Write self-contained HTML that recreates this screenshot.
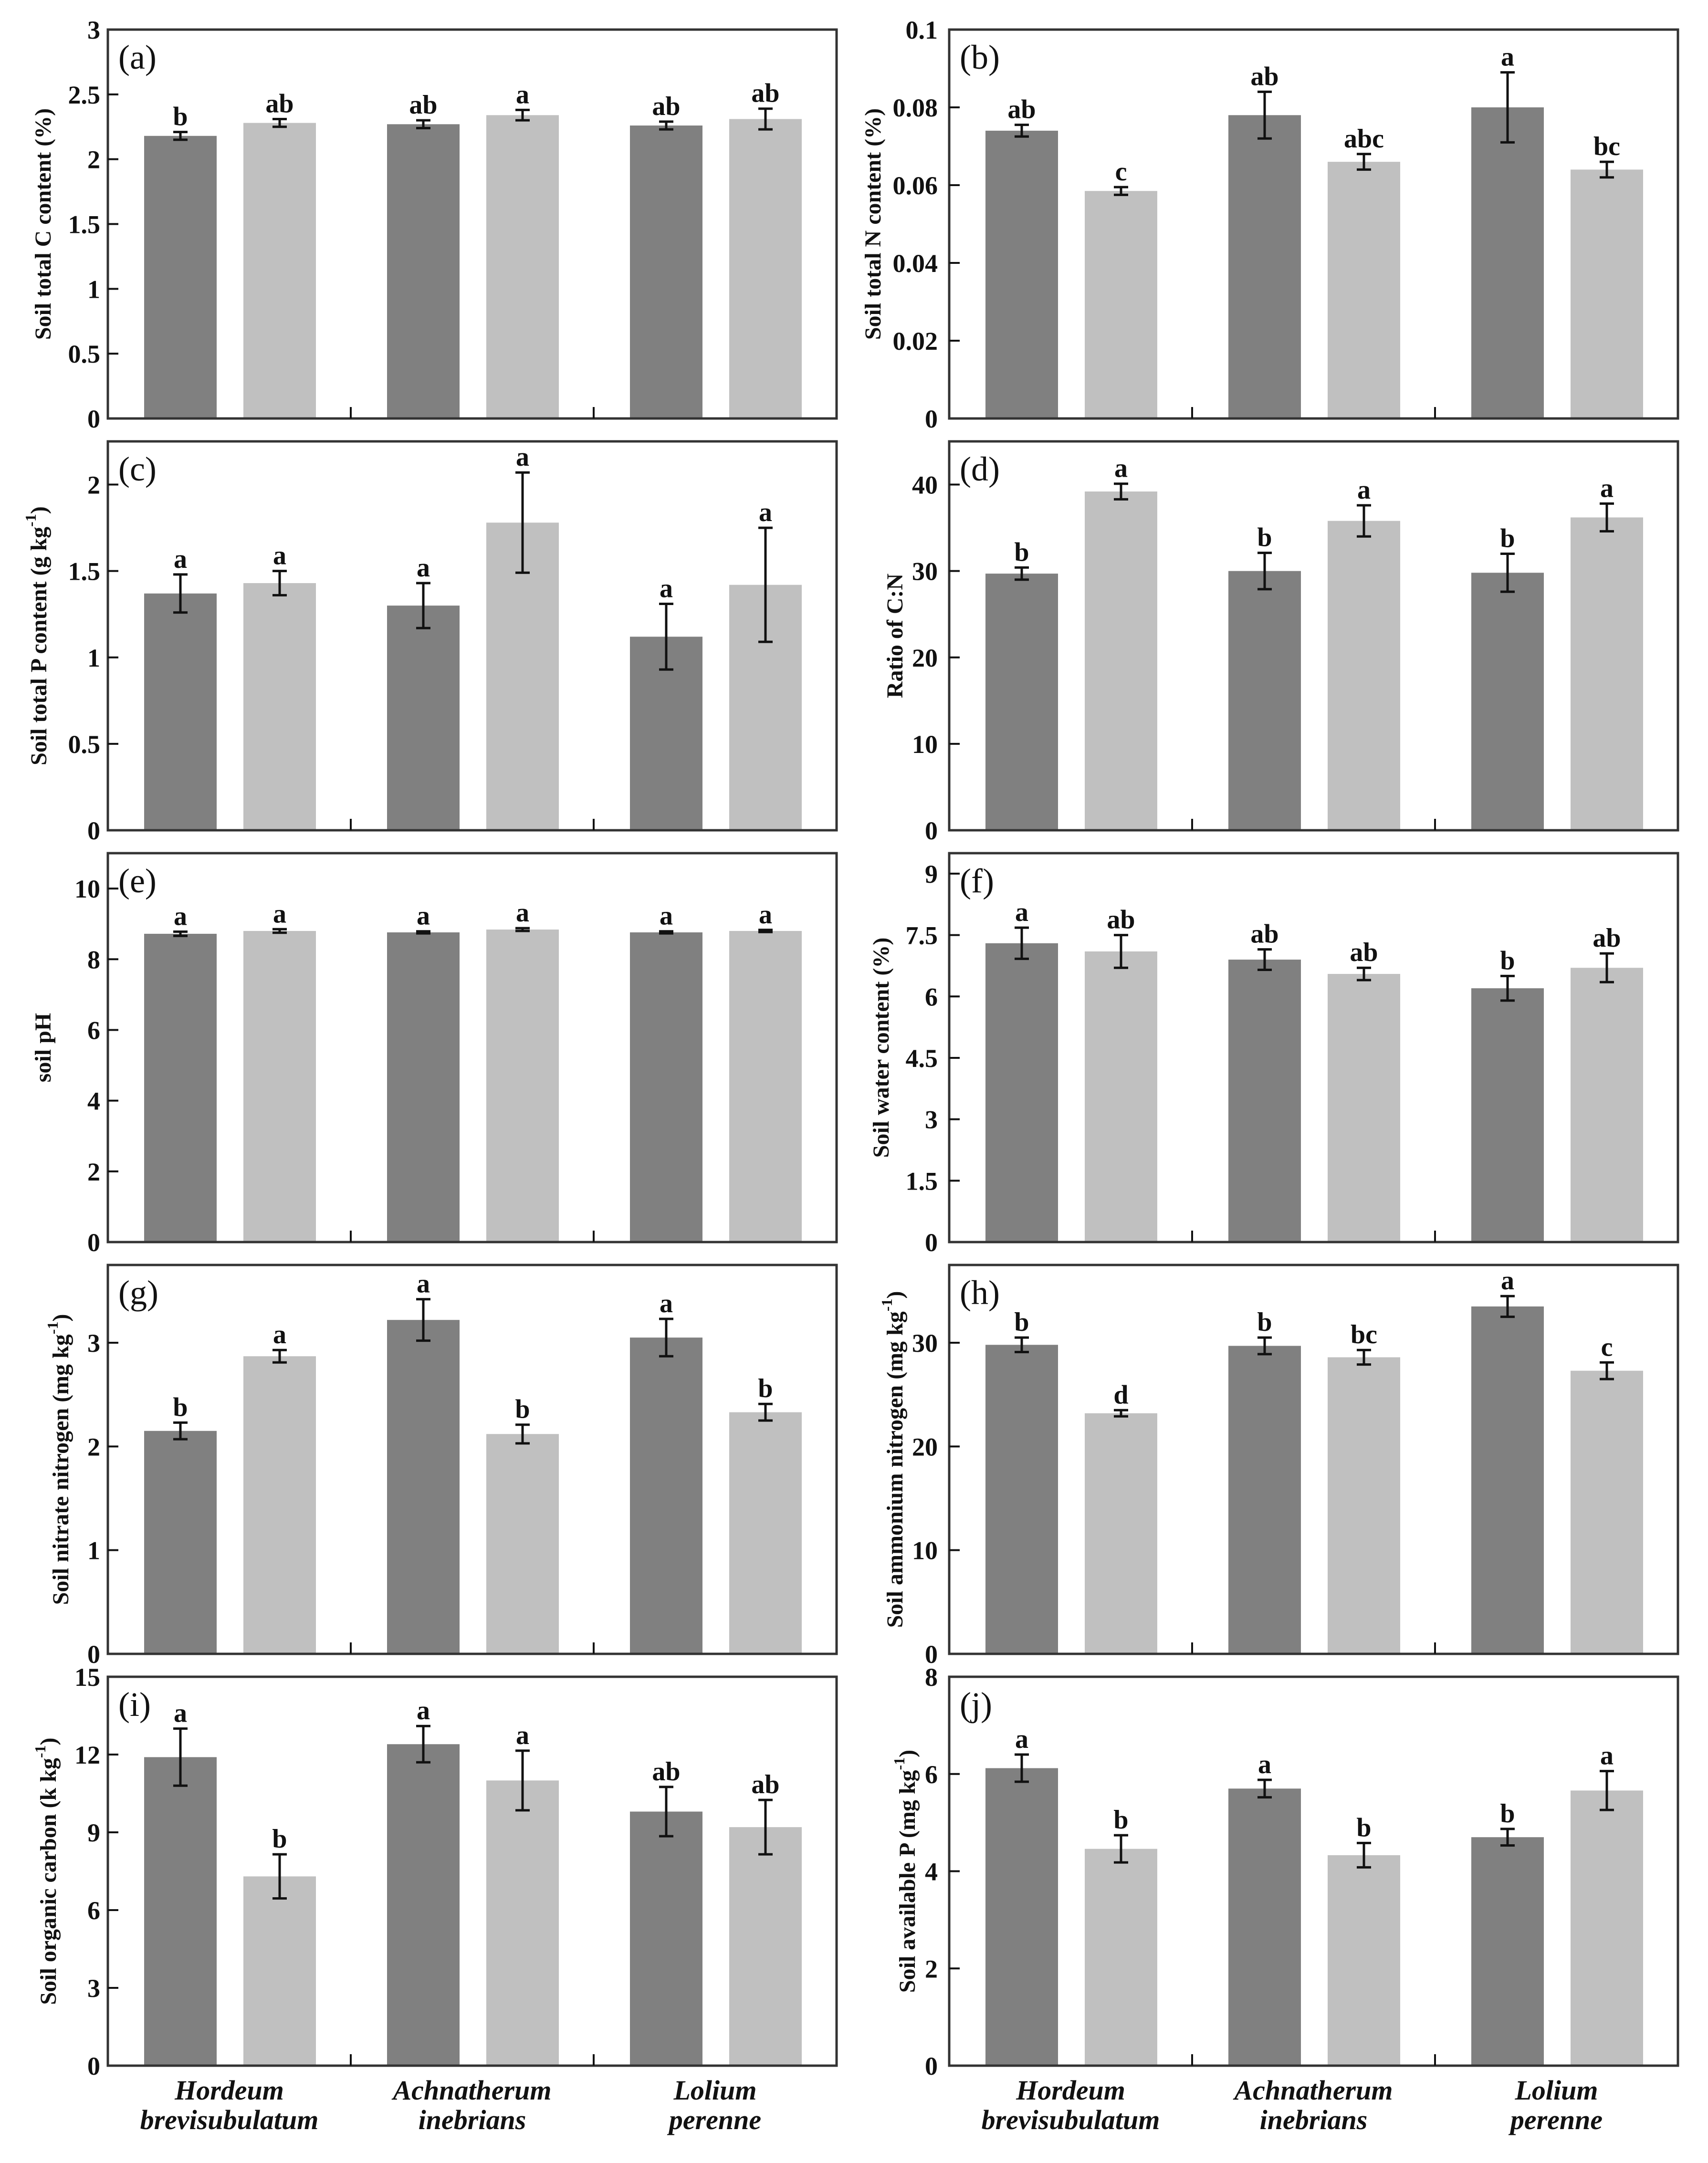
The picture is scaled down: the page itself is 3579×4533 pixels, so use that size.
<!DOCTYPE html>
<html><head><meta charset="utf-8">
<style>
html,body{margin:0;padding:0;background:#fff;}
svg{display:block;}
text{font-family:"Liberation Serif",serif;}
</style></head>
<body>
<svg id="chart" xmlns="http://www.w3.org/2000/svg" width="3579" height="4533" viewBox="0 0 3579 4533"></svg>
<script>
// ---- data ----
const species = [["Hordeum","brevisubulatum"],["Achnatherum","inebrians"],["Lolium","perenne"]];
const panelLabels = ["(a)","(b)","(c)","(d)","(e)","(f)","(g)","(h)","(i)","(j)"];
const yTitles = ["Soil total C content (%)","Soil total N content (%)","Soil total P content (g kg|-1|)","Ratio of C:N","soil pH","Soil water content (%)","Soil nitrate nitrogen (mg kg|-1|)","Soil ammonium nitrogen (mg kg|-1|)","Soil organic carbon (k kg|-1|)","Soil available P (mg kg|-1|)"];
const yMax = [3, 0.1, 2.25, 45, 11, 9.5, 3.75, 37.5, 15, 8];
const yTickVals = [[0,0.5,1,1.5,2,2.5,3],[0,0.02,0.04,0.06,0.08,0.1],[0,0.5,1,1.5,2],[0,10,20,30,40],[0,2,4,6,8,10],[0,1.5,3,4.5,6,7.5,9],[0,1,2,3],[0,10,20,30],[0,3,6,9,12,15],[0,2,4,6,8]];
const yTickLabels = [["0","0.5","1","1.5","2","2.5","3"],["0","0.02","0.04","0.06","0.08","0.1"],["0","0.5","1","1.5","2"],["0","10","20","30","40"],["0","2","4","6","8","10"],["0","1.5","3","4.5","6","7.5","9"],["0","1","2","3"],["0","10","20","30"],["0","3","6","9","12","15"],["0","2","4","6","8"]];
const darkVals = [[2.18,2.27,2.26],[0.074,0.078,0.080],[1.37,1.30,1.12],[29.7,30.0,29.8],[8.72,8.76,8.76],[7.3,6.9,6.2],[2.15,3.22,3.05],[29.8,29.7,33.5],[11.9,12.4,9.8],[6.12,5.70,4.70]];
const darkErr = [[0.03,0.03,0.03],[0.0015,0.006,0.009],[0.11,0.13,0.19],[0.7,2.1,2.2],[0.06,0.03,0.03],[0.38,0.25,0.3],[0.08,0.2,0.18],[0.7,0.8,1.0],[1.1,0.7,0.95],[0.28,0.18,0.17]];
const lightVals = [[2.28,2.34,2.31],[0.0585,0.066,0.064],[1.43,1.78,1.42],[39.2,35.8,36.2],[8.80,8.84,8.80],[7.1,6.55,6.7],[2.87,2.12,2.33],[23.2,28.6,27.3],[7.3,11.0,9.2],[4.46,4.33,5.66]];
const lightErr = [[0.03,0.04,0.08],[0.001,0.002,0.002],[0.07,0.29,0.33],[0.9,1.8,1.6],[0.05,0.04,0.03],[0.4,0.15,0.35],[0.06,0.09,0.08],[0.3,0.7,0.8],[0.85,1.15,1.05],[0.28,0.25,0.4]];
const darkLetters = [["b","ab","ab"],["ab","ab","a"],["a","a","a"],["b","b","b"],["a","a","a"],["a","ab","b"],["b","a","a"],["b","b","a"],["a","a","ab"],["a","a","b"]];
const lightLetters = [["ab","a","ab"],["c","abc","bc"],["a","a","a"],["a","a","a"],["a","a","a"],["ab","ab","ab"],["a","b","b"],["d","bc","c"],["b","a","ab"],["b","b","a"]];

const NS = "http://www.w3.org/2000/svg";
const svg = document.getElementById("chart");
function mk(tag, attrs, parent){ const e=document.createElementNS(NS,tag); for(const k in attrs) e.setAttribute(k,attrs[k]); (parent||svg).appendChild(e); return e; }

const colX = [226, 1989];
const panelW = 1527;
const rowTop = [62, 925, 1788, 2651, 3514];
const panelH = 815;
const titleXs = [95, 1834, 86, 1880, 95, 1851, 132, 1880, 106, 1906];

for (let p=0; p<10; p++){
  const col = p%2, row = Math.floor(p/2);
  const x0 = colX[col], y0 = rowTop[row], y1 = y0+panelH;
  const g = mk("g",{});
  
  
  const yScale = v => y1 - v/yMax[p]*panelH;
  const pitch = panelW/3;
  const xScale = (grp, off) => x0 + grp*pitch + off;
  for (let k=0;k<3;k++){
    [[darkVals,darkErr,darkLetters,76,"#808080","dark"],[lightVals,lightErr,lightLetters,284,"#c0c0c0","light"]].forEach(([vals,errs,lets,off,color,nm])=>{
      const v = vals[p][k], e = errs[p][k];
      const bx = xScale(k,off), bw = 152, cx = bx+bw/2;
      const r = mk("rect",{x:bx,y:yScale(v),width:bw,height:y1-yScale(v),fill:color},g);
      
      
      const eg = mk("g",{stroke:"#111","stroke-width":5},g);
      
      
      mk("line",{x1:cx,x2:cx,y1:yScale(v+e),y2:yScale(v-e)},eg);
      mk("line",{x1:cx-15,x2:cx+15,y1:yScale(v+e),y2:yScale(v+e)},eg);
      mk("line",{x1:cx-15,x2:cx+15,y1:yScale(v-e),y2:yScale(v-e)},eg);
      const t = mk("text",{x:cx,y:yScale(v+e)-14,"text-anchor":"middle","font-size":56,"font-weight":"bold",fill:"#111"},g);
      t.textContent = lets[p][k];
      
      
    });
  }
  const fr = mk("rect",{x:x0,y:y0,width:panelW,height:panelH,fill:"none",stroke:"#333","stroke-width":5},g);
  
  
  for (let k=1;k<3;k++){
    const sx = x0+k*pitch;
    const l = mk("line",{x1:sx,x2:sx,y1:y1,y2:y1-24,stroke:"#111","stroke-width":4},g);
    
    
  }
  yTickVals[p].forEach((tv,i)=>{
    const ty = yScale(tv);
    if (i>0 && tv<yMax[p]-1e-9){
      const l = mk("line",{x1:x0,x2:x0+22,y1:ty,y2:ty,stroke:"#111","stroke-width":4},g);
      
      
    }
    const t = mk("text",{x:x0-(col?24:16),y:ty+19,"text-anchor":"end","font-size":54,"font-weight":"bold",fill:"#111"},g);
    t.textContent = yTickLabels[p][i];
    
    
  });
  const pl = mk("text",{x:x0+22,y:y0+82,"font-size":72,fill:"#111"},g);
  pl.textContent = panelLabels[p];
  
  
  const tx = titleXs[p], tyc = y0+panelH/2;
  const yt = mk("text",{x:tx,y:tyc,"text-anchor":"middle","font-size":48,"font-weight":"bold",fill:"#111",transform:`rotate(-90 ${tx} ${tyc})`,"dominant-baseline":"middle"},g);
  
  
  const parts = yTitles[p].split("|");
  parts.forEach((s,i)=>{
    const ts = mk("tspan",{},yt);
    if (i===1){ ts.setAttribute("baseline-shift","super"); ts.setAttribute("font-size","32"); }
    ts.textContent = s;
  });
  if (row===4){
    for (let k=0;k<3;k++){
      const cx = x0+(k+0.5)*pitch;
      species[k].forEach((w,j)=>{
        const t = mk("text",{x:cx,y:4400+j*62,"text-anchor":"middle","font-size":58,"font-weight":"bold","font-style":"italic",fill:"#111"},g);
        t.textContent = w;
        
        
      });
    }
  }
}
</script>
</body></html>
